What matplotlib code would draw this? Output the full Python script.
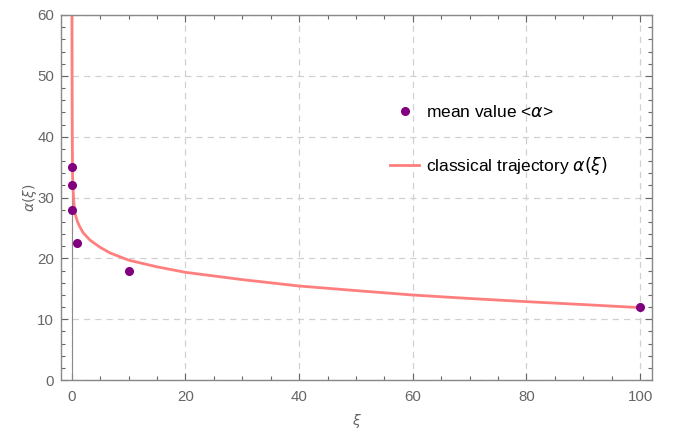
import matplotlib.pyplot as plt
from matplotlib.ticker import MultipleLocator
from matplotlib.lines import Line2D

plt.rcParams['font.family'] = ['Liberation Sans', 'DejaVu Sans']
plt.rcParams['mathtext.fontset'] = 'dejavusans'

# mean values <alpha>
xi_mean = [0, 0, 0.1, 1, 10, 100]
alpha_mean = [35, 32, 28, 22.5, 18, 12]

# classical trajectory alpha(xi)
xi_curve = [0.02, 0.05, 0.08, 0.15, 0.3, 0.53, 1.0, 1.4, 2, 3.2, 5, 6.7,
            10, 15, 20, 30, 40, 50, 60, 70, 80, 90, 100]
alpha_curve = [60, 50, 40, 33, 30, 27.5, 26, 25.2, 24.2, 23.0, 21.8, 20.9,
               19.7, 18.6, 17.7, 16.5, 15.45, 14.7, 13.97, 13.4, 12.88, 12.4, 11.9]

gray = '#666666'
fig = plt.figure(figsize=(6.73, 4.32), dpi=100)
ax = fig.add_axes([61/673, 52/432, 591/673, 365/432])

ax.grid(True, color='#d0d0d0', linestyle=(0, (5, 4)), linewidth=0.9)
ax.set_axisbelow(True)
ax.axvline(0, color='#8a8a8a', lw=0.8, zorder=1)

ax.plot(xi_curve, alpha_curve, color='#ff7f7f', lw=2, zorder=2)
ax.plot(xi_mean, alpha_mean, 'o', color='#800080', ms=5.5, zorder=3)

ax.set_xlim(-1.9, 102.1)
ax.set_ylim(0, 60)
ax.xaxis.set_major_locator(MultipleLocator(20))
ax.xaxis.set_minor_locator(MultipleLocator(5))
ax.yaxis.set_major_locator(MultipleLocator(10))
ax.yaxis.set_minor_locator(MultipleLocator(2))
ax.tick_params(which='both', direction='in', top=True, right=True,
               color=gray, labelcolor=gray, labelsize=10.8)
ax.tick_params(which='major', length=5, width=0.8)
ax.tick_params(which='minor', length=3, width=0.8)
ax.tick_params(axis='x', pad=7)
ax.tick_params(axis='y', pad=5)
for s in ax.spines.values():
    s.set_color('#888888')
    s.set_linewidth(1)

ax.set_xlabel(r'$\xi$', color=gray, fontsize=10, labelpad=6)
ax.set_ylabel(r'$\alpha(\xi)$', color=gray, fontsize=10, labelpad=-1)

handles = [Line2D([], [], marker='o', ls='none', color='#800080', ms=5.5),
           Line2D([], [], color='#ff7f7f', lw=2)]
labels = [r'mean value <$\alpha$>', r'classical trajectory $\alpha(\xi)$']
ax.legend(handles, labels, loc='upper left', bbox_to_anchor=(0.53, 0.80),
          frameon=False, fontsize=12.5, labelspacing=2.05, handlelength=1.7,
          handletextpad=0.4)

fig.savefig('out.png', dpi=100)
